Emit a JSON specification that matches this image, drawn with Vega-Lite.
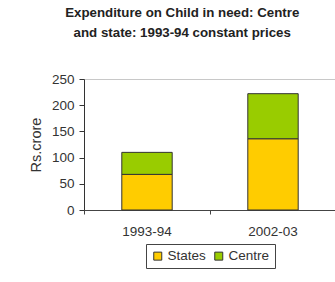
{
  "$schema": "https://vega.github.io/schema/vega-lite/v6.json",
  "width": 252,
  "height": 131,
  "padding": {"left": 28, "top": 5, "right": 0, "bottom": 0},
  "background": "white",
  "config": {
    "font": "Liberation Sans",
    "view": {"stroke": "#c8c8c8", "strokeWidth": 1},
    "legend": {"layout": {"bottom": {"anchor": "middle"}}}
  },
  "title": {
    "text": ["Expenditure on Child in need: Centre", "and state: 1993-94 constant prices"],
    "fontSize": 13.3,
    "fontWeight": "bold",
    "color": "#222",
    "lineHeight": 20,
    "anchor": "middle",
    "frame": "bounds",
    "offset": 33
  },
  "data": {
    "values": [
      {"year": "1993-94", "source": "States", "value": 68},
      {"year": "1993-94", "source": "Centre", "value": 42},
      {"year": "2002-03", "source": "States", "value": 136},
      {"year": "2002-03", "source": "Centre", "value": 86}
    ]
  },
  "mark": {"type": "bar", "width": {"band": 0.4}, "stroke": "#333", "strokeWidth": 1},
  "encoding": {
    "x": {
      "field": "year",
      "type": "nominal",
      "scale": {"paddingInner": 0, "paddingOuter": 0},
      "axis": {
        "title": null,
        "labelAngle": 0,
        "bandPosition": 0,
        "labelFontSize": 13.5,
        "labelColor": "#333",
        "labelPadding": 10,
        "domainColor": "#444",
        "tickColor": "#444",
        "tickSize": 4
      }
    },
    "y": {
      "field": "value",
      "type": "quantitative",
      "stack": "zero",
      "scale": {"domain": [0, 250], "nice": false},
      "axis": {
        "title": "Rs.crore",
        "values": [0, 50, 100, 150, 200, 250],
        "grid": false,
        "labelFontSize": 13.5,
        "labelColor": "#333",
        "labelPadding": 5,
        "titleFontSize": 14.5,
        "titleFontWeight": "normal",
        "titleColor": "#333",
        "titlePadding": 8,
        "domainColor": "#333",
        "tickColor": "#333",
        "tickSize": 5
      }
    },
    "color": {
      "field": "source",
      "type": "nominal",
      "sort": ["States", "Centre"],
      "scale": {"domain": ["States", "Centre"], "range": ["#FFCC00", "#99CC00"]},
      "legend": {
        "orient": "bottom",
        "direction": "horizontal",
        "title": null,
        "symbolType": "square",
        "symbolSize": 64,
        "symbolStrokeColor": "#333",
        "symbolStrokeWidth": 1,
        "labelFontSize": 13.5,
        "labelColor": "#333",
        "strokeColor": "#444",
        "padding": 5,
        "offset": 6,
        "columnPadding": 6,
        "symbolOffset": 0,
        "labelOffset": 3
      }
    },
    "order": {"field": "source", "sort": "descending"}
  }
}
